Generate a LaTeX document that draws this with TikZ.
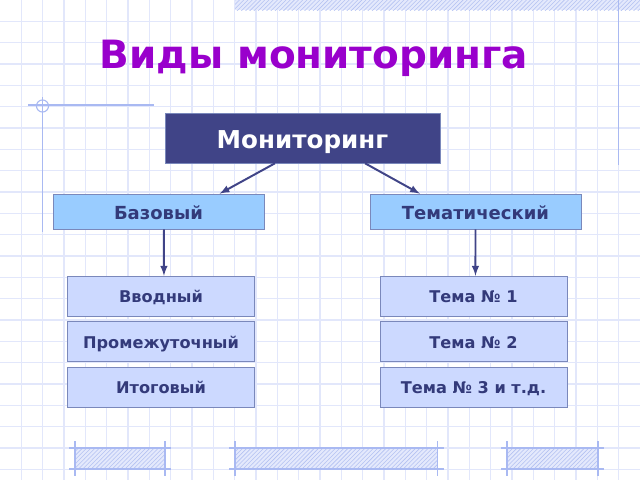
\documentclass[tikz,border=0pt]{standalone}
\usepackage{fontspec}
\setmainfont{DejaVu Sans}
\usetikzlibrary{positioning,arrows,patterns}

\definecolor{gridc}{HTML}{E2E7FB}
\definecolor{decor}{HTML}{A9B9F2}
\definecolor{hatchc}{HTML}{B4C2F2}
\definecolor{hatchbg}{HTML}{E4E9FC}
\definecolor{titlec}{HTML}{9900CC}
\definecolor{rootc}{HTML}{404487}
\definecolor{midc}{HTML}{99CCFF}
\definecolor{leafc}{HTML}{CCD9FF}
\definecolor{textc}{HTML}{333A7A}
\definecolor{edgec}{HTML}{7A88BB}

\begin{document}
\begin{tikzpicture}[x=0.025cm,y=-0.025cm,
					every node/.style={font=\bfseries, inner sep=0pt, text depth=0pt},
					root/.style={fill=rootc, draw=edgec, text=white, minimum width=195.6pt, minimum height=35.6pt, text height=15.6pt, font=\bfseries\fontsize{17.5}{19}\selectfont},
					kind/.style={fill=midc, draw=edgec, text=textc, minimum width=150.1pt, minimum height=24.9pt, text height=11.3pt, font=\bfseries\fontsize{12.8}{14}\selectfont},
					leaf/.style={fill=leafc, draw=edgec, text=textc, minimum width=132.7pt, minimum height=28.4pt, text height=9.8pt, font=\bfseries\fontsize{11.5}{13}\selectfont},
					link/.style={draw=rootc, line width=1.4pt, -latex},
					bar/.style={draw=decor, fill=hatchbg, postaction={pattern=north east lines, pattern color=hatchc}}]
				\useasboundingbox (0,0) rectangle (640,480);
				% grid
				\foreach \i in {1,...,29}
					\draw[gridc, line width=0.8pt] ({\i*21.333},0) -- ({\i*21.333},480);
				\foreach \j in {1,...,22}
					\draw[gridc, line width=0.8pt] (0,{\j*21.333}) -- (640,{\j*21.333});
				% decorations
				\fill[bar, draw=none] (235,0) rectangle (640,10);
				\draw[decor, line width=1pt] (618.5,0) -- (618.5,165);
				\draw[decor, line width=1pt] (28,105) -- (154,105);
				\draw[decor, line width=1pt] (42.5,97) -- (42.5,232);
				\draw[decor, line width=0.8pt] (42.5,106) circle (4.3pt);
				\foreach \a/\b in {75/165,235/437.5,507/598}{
					\draw[bar] (\a,448) rectangle (\b,469);
					\draw[decor, line width=0.8pt] (\a,441) -- (\a,476) (\b,441) -- (\b,476);
					\draw[decor, line width=0.8pt] (\a-6,448) -- (\b+6,448) (\a-6,469) -- (\b+6,469);
				}
				% title
				\node[text=titlec, text height=20.2pt, font=\bfseries\fontsize{27.7}{30}\selectfont] (title) at (314,54.2) {Виды мониторинга};
				% boxes
				\node[root] (mon) at (302.5,138) {Мониторинг};
				\node[kind] (base) at (158.5,211.5) {Базовый};
				\node[kind] (theme) at (475.5,211.5) {Тематический};
				\node[leaf] (intro) at (161,296) {Вводный};
				\node[leaf, below=3.5pt of intro] (mid) {Промежуточный};
				\node[leaf, below=3.5pt of mid] (fin) {Итоговый};
				\node[leaf] (t1) at (473.5,296) {Тема № 1};
				\node[leaf, below=3.5pt of t1] (t2) {Тема № 2};
				\node[leaf, below=3.5pt of t2] (t3) {Тема № 3 и т.д.};
				% arrows
				\draw[link] ([xshift=-19.6pt]mon.south) -- ([xshift=43.4pt]base.north);
				\draw[link] ([xshift=44.5pt]mon.south) -- ([xshift=-39.5pt]theme.north);
				\draw[link] ([xshift=3.9pt]base.south) -- ([xshift=2.1pt]intro.north);
				\draw[link] (theme.south) -- ([xshift=1.4pt]t1.north);
			\end{tikzpicture}
\end{document}
